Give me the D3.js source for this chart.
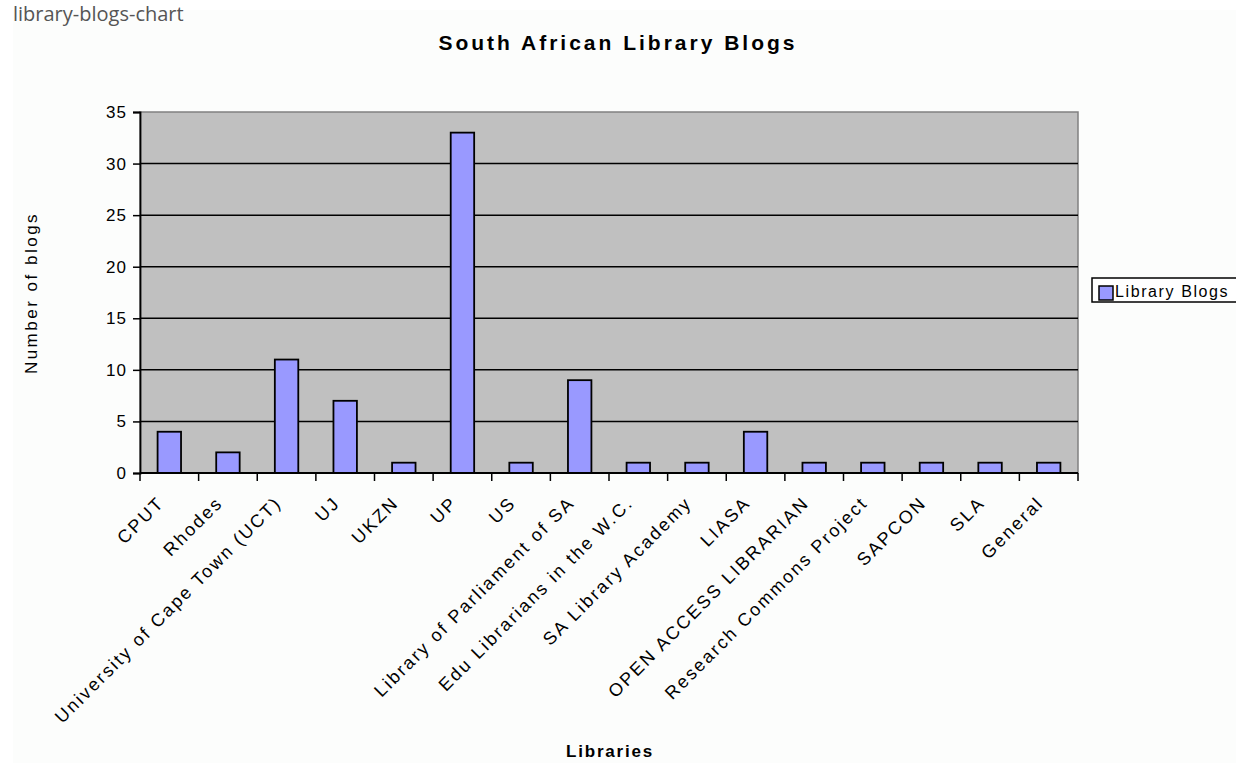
<!DOCTYPE html>
<html>
<head>
<meta charset="utf-8">
<script src="https://cdn.jsdelivr.net/npm/d3@7"></script>
<style>
  body { margin: 0; background: #ffffff; }
  svg { display: block; font-family: "Liberation Sans", Arial, sans-serif; }
</style>
</head>
<body>
<svg id="chart" width="1236" height="763"></svg>
<script>
// chart data
const libraries = ["CPUT", "Rhodes", "University of Cape Town (UCT)", "UJ", "UKZN", "UP", "US",
    "Library of Parliament of SA", "Edu Librarians in the W.C.", "SA Library Academy", "LIASA",
    "OPEN ACCESS LIBRARIAN", "Research Commons Project", "SAPCON", "SLA", "General"];
const blogCounts = [4, 2, 11, 7, 1, 33, 1, 9, 1, 1, 4, 1, 1, 1, 1, 1];
const yTicks = [0, 5, 10, 15, 20, 25, 30, 35];
const seriesName = "Library Blogs";

const svg = d3.select("#chart");

// page caption + chart background
svg.append("rect").attr("x", 13).attr("y", 10).attr("width", 1223).attr("height", 753)
    .attr("fill", "#fcfdfc");
svg.append("text").attr("x", 13).attr("y", 21)
    .attr("font-size", 20).attr("fill", "#555")
    .attr("font-family", "'Open Sans', sans-serif")
    .text("library-blogs-chart");

const plotL = 140, plotR = 1078, plotT = 112, plotB = 473;

const x = d3.scaleBand().domain(libraries).range([plotL, plotR]).paddingInner(0).paddingOuter(0);
const y = d3.scaleLinear().domain([0, 35]).range([plotB, plotT]);
const barW = x.bandwidth() / 2.5;

// plot area
svg.append("rect").attr("x", plotL).attr("y", plotT)
    .attr("width", plotR - plotL).attr("height", plotB - plotT)
    .attr("fill", "#c0c0c0").attr("stroke", "#808080").attr("stroke-width", 1.5);

// gridlines
svg.selectAll(".grid").data(yTicks.filter(d => d > 0 && d < 35)).enter()
    .append("line")
    .attr("x1", plotL).attr("x2", plotR)
    .attr("y1", d => y(d)).attr("y2", d => y(d))
    .attr("stroke", "#000").attr("stroke-width", 1.5);

// bars
svg.selectAll(".bar").data(libraries).enter()
    .append("rect")
    .attr("x", (d) => x(d) + (x.bandwidth() - barW) / 2)
    .attr("y", (d, i) => y(blogCounts[i]))
    .attr("width", barW)
    .attr("height", (d, i) => plotB - y(blogCounts[i]))
    .attr("fill", "#9999ff").attr("stroke", "#000").attr("stroke-width", 1.8);

// y axis
const yAxis = svg.append("g").attr("transform", `translate(${plotL},0)`)
    .call(d3.axisLeft(y).tickValues(yTicks).tickSize(7).tickPadding(6));
yAxis.select(".domain").attr("stroke", "#000").attr("stroke-width", 1.8);
yAxis.selectAll(".tick line").attr("stroke", "#000").attr("stroke-width", 1.5);
yAxis.selectAll("text").attr("font-size", 17).attr("fill", "#000")
    .attr("letter-spacing", 1)
    .attr("font-family", "'Liberation Sans', Arial, sans-serif");

// x axis, ticks on category boundaries
const xAxis = svg.append("g").attr("transform", `translate(0,${plotB})`);
xAxis.append("line").attr("x1", plotL).attr("x2", plotR).attr("stroke", "#000").attr("stroke-width", 1.8);
const bounds = libraries.map(d => x(d)).concat([plotR]);
xAxis.selectAll(".tk").data(bounds).enter()
    .append("line")
    .attr("x1", d => d).attr("x2", d => d).attr("y1", 0).attr("y2", 8)
    .attr("stroke", "#000").attr("stroke-width", 1.5);
xAxis.selectAll(".lbl").data(libraries).enter()
    .append("text")
    .attr("transform", d => `translate(${x(d) + x.bandwidth() / 2 - 4},31) rotate(-45)`)
    .attr("text-anchor", "end")
    .attr("font-size", 18).attr("letter-spacing", 2.2).attr("fill", "#000")
    .text(d => d);

// titles
svg.append("text").attr("x", 618).attr("y", 50).attr("text-anchor", "middle")
    .attr("font-size", 21).attr("letter-spacing", 3).attr("font-weight", "bold")
    .text("South African Library Blogs");
svg.append("text").attr("x", 610).attr("y", 757).attr("text-anchor", "middle")
    .attr("font-size", 17).attr("letter-spacing", 1.8).attr("font-weight", "bold")
    .text("Libraries");
svg.append("text").attr("transform", `translate(37,293) rotate(-90)`)
    .attr("text-anchor", "middle").attr("font-size", 17).attr("letter-spacing", 2.5)
    .text("Number of blogs");

// legend
const lg = svg.append("g").attr("transform", "translate(1092,278)");
lg.append("rect").attr("width", 160).attr("height", 24)
    .attr("fill", "#fff").attr("stroke", "#000").attr("stroke-width", 1.5);
lg.append("rect").attr("x", 7).attr("y", 8).attr("width", 14).attr("height", 14)
    .attr("fill", "#9999ff").attr("stroke", "#000").attr("stroke-width", 1.5);
lg.append("text").attr("x", 23).attr("y", 19).attr("font-size", 16)
    .attr("letter-spacing", 1.6).text(seriesName);
</script>
</body>
</html>
